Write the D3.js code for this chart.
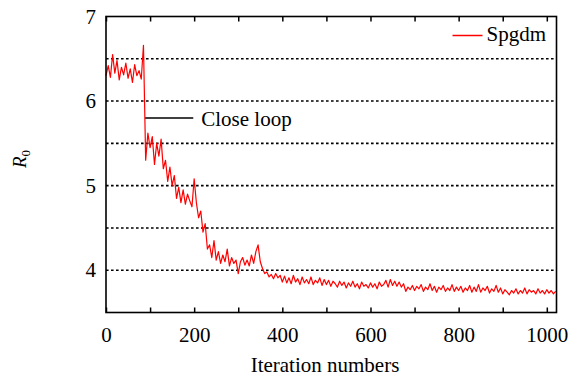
<!DOCTYPE html>
<html>
<head>
<meta charset="utf-8">
<script src="https://cdn.jsdelivr.net/npm/d3@7"></script>
</head>
<body style="margin:0; background:#fff">
<div id="chart"></div>
<script>
// colours
const LINE_COLOR = "#ff0000";
const AXIS_COLOR = "#000";
const FONT = '"Liberation Serif"';

const iterStep = 5;
const r0Values = [
  6.30, 6.42, 6.28, 6.55, 6.33, 6.48, 6.25, 6.40, 6.31, 6.45, 6.27, 6.38, 6.22, 6.43, 6.30, 6.36, 6.26,
  6.66, 5.30, 5.62, 5.45, 5.58, 5.25, 5.50, 5.35, 5.55, 5.20, 5.30, 5.05, 5.22, 5.00, 5.12, 4.85,
  4.98, 4.80, 4.95, 4.78, 4.90, 4.82, 4.75, 5.08, 4.80, 4.62, 4.70, 4.45, 4.55, 4.25, 4.30, 4.15,
  4.35, 4.12, 4.22, 4.08, 4.18, 4.10, 4.25, 4.05, 4.15, 4.08, 4.12, 3.96, 4.10, 4.15, 4.06, 4.12,
  4.05, 4.18, 4.08, 4.22, 4.30, 4.10, 4.02, 3.96, 3.98, 3.92, 3.95, 3.90, 3.96, 3.91, 3.94,
  3.86, 3.93, 3.85, 3.91, 3.84, 3.94, 3.86, 3.90, 3.83, 3.92, 3.85, 3.89, 3.84, 3.92, 3.83, 3.88, 3.85, 3.91, 3.82, 3.89,
  3.83, 3.88, 3.81, 3.87, 3.84, 3.80, 3.87, 3.82, 3.86, 3.79, 3.85, 3.81, 3.87, 3.80, 3.84, 3.78, 3.86, 3.81, 3.83, 3.79,
  3.85, 3.80, 3.84, 3.78, 3.86, 3.81, 3.83, 3.88, 3.80, 3.89, 3.82, 3.87, 3.81, 3.86, 3.80, 3.84, 3.75, 3.80, 3.77, 3.82,
  3.76, 3.81, 3.78, 3.83, 3.75, 3.80, 3.77, 3.84, 3.76, 3.81, 3.74, 3.80, 3.77, 3.82, 3.75, 3.79, 3.76, 3.83, 3.75, 3.80,
  3.76, 3.81, 3.74, 3.79, 3.76, 3.82, 3.74, 3.80, 3.75, 3.83, 3.74, 3.79, 3.76, 3.81, 3.73, 3.78, 3.75, 3.82, 3.74, 3.79,
  3.72, 3.77, 3.74, 3.71, 3.76, 3.73, 3.78, 3.72, 3.76, 3.73, 3.79, 3.72, 3.77, 3.74, 3.76, 3.72, 3.78, 3.73, 3.76, 3.72,
  3.77, 3.73, 3.76, 3.72, 3.75
];
const xTicks = [0, 200, 400, 600, 800, 1000];
const xMinorTicks = [0, 100, 200, 300, 400, 500, 600, 700, 800, 900, 1000];
const yTicks = [4, 5, 6, 7];
const yGrid = [4, 4.5, 5, 5.5, 6, 6.5];
const seriesName = "Spgdm";
const annotation = { text: "Close loop", iterFrom: 89, iterTo: 198, value: 5.80 };

const width = 584, height = 377;
const margin = { top: 16.5, right: 27.5, bottom: 64.5, left: 106 };
const plotW = width - margin.left - margin.right;
const plotH = height - margin.top - margin.bottom;

const data = r0Values.map((v, i) => ({ iter: i * iterStep, value: v }));

const svg = d3.select("#chart")
    .append("svg")
    .attr("width", width)
    .attr("height", height)
    .style("font-family", FONT);

const g = svg.append("g")
    .attr("transform", `translate(${margin.left}, ${margin.top})`);

const xScale = d3.scaleLinear().domain([0, 1022]).range([0, plotW]);
const yScale = d3.scaleLinear().domain([3.5, 7]).range([plotH, 0]);

// dotted gridlines
g.selectAll(".grid")
    .data(yGrid)
    .enter()
    .append("line")
    .attr("x1", 0)
    .attr("x2", plotW)
    .attr("y1", d => yScale(d))
    .attr("y2", d => yScale(d))
    .attr("stroke", AXIS_COLOR)
    .attr("stroke-width", 1.6)
    .attr("stroke-dasharray", "2.6,2.4");

// the series
const line = d3.line()
    .x(d => xScale(d.iter))
    .y(d => yScale(d.value));

g.append("path")
    .datum(data)
    .attr("d", line)
    .attr("fill", "none")
    .attr("stroke", LINE_COLOR)
    .attr("stroke-width", 1.2)
    .attr("stroke-linejoin", "round");

// inner ticks, top and bottom
g.append("g")
    .attr("transform", `translate(0,${plotH})`)
    .call(d3.axisTop(xScale).tickValues(xMinorTicks).tickSize(5).tickFormat(""))
    .call(a => a.select(".domain").remove())
    .selectAll("line").attr("stroke-width", 1.5);

g.append("g")
    .call(d3.axisBottom(xScale).tickValues(xMinorTicks).tickSize(5).tickFormat(""))
    .call(a => a.select(".domain").remove())
    .selectAll("line").attr("stroke-width", 1.5);

// x tick labels
g.append("g")
    .attr("transform", `translate(0,${plotH})`)
    .call(d3.axisBottom(xScale).tickValues(xTicks).tickSize(0).tickPadding(15).tickFormat(d3.format("d")))
    .call(a => a.select(".domain").remove())
    .selectAll("text")
    .style("font-family", FONT)
    .style("font-size", "21px")
    .attr("fill", AXIS_COLOR);

// y tick labels
g.append("g")
    .call(d3.axisLeft(yScale).tickValues(yTicks).tickSize(0).tickPadding(10).tickFormat(d3.format("d")))
    .call(a => a.select(".domain").remove())
    .selectAll("text")
    .style("font-family", FONT)
    .style("font-size", "21px")
    .attr("fill", AXIS_COLOR);

// frame
g.append("rect")
    .attr("x", 0)
    .attr("y", 0)
    .attr("width", plotW)
    .attr("height", plotH)
    .attr("fill", "none")
    .attr("stroke", AXIS_COLOR)
    .attr("stroke-width", 1.6);

// annotation
g.append("line")
    .attr("x1", xScale(annotation.iterFrom))
    .attr("x2", xScale(annotation.iterTo))
    .attr("y1", yScale(annotation.value))
    .attr("y2", yScale(annotation.value))
    .attr("stroke", AXIS_COLOR)
    .attr("stroke-width", 1.6);

g.append("text")
    .attr("x", xScale(annotation.iterTo) + 8)
    .attr("y", yScale(annotation.value) + 8.5)
    .style("font-family", FONT)
    .style("font-size", "21px")
    .text(annotation.text);

// legend
g.append("line")
    .attr("x1", plotW - 104)
    .attr("x2", plotW - 74)
    .attr("y1", 19)
    .attr("y2", 19)
    .attr("stroke", LINE_COLOR)
    .attr("stroke-width", 1.5);

g.append("text")
    .attr("x", plotW - 70)
    .attr("y", 24.5)
    .style("font-family", FONT)
    .style("font-size", "21px")
    .text(seriesName);

// axis titles
svg.append("text")
    .attr("x", 325)
    .attr("y", 372)
    .attr("text-anchor", "middle")
    .style("font-family", FONT)
    .style("font-size", "21px")
    .text("Iteration numbers");

const yTitle = svg.append("text")
    .attr("transform", `translate(25.5, 159) rotate(-90)`)
    .attr("text-anchor", "middle")
    .style("font-family", FONT)
    .style("font-size", "19px");
yTitle.append("tspan").style("font-style", "italic").text("R");
yTitle.append("tspan").style("font-size", "13px").attr("dy", 4).text("0");
</script>
</body>
</html>
